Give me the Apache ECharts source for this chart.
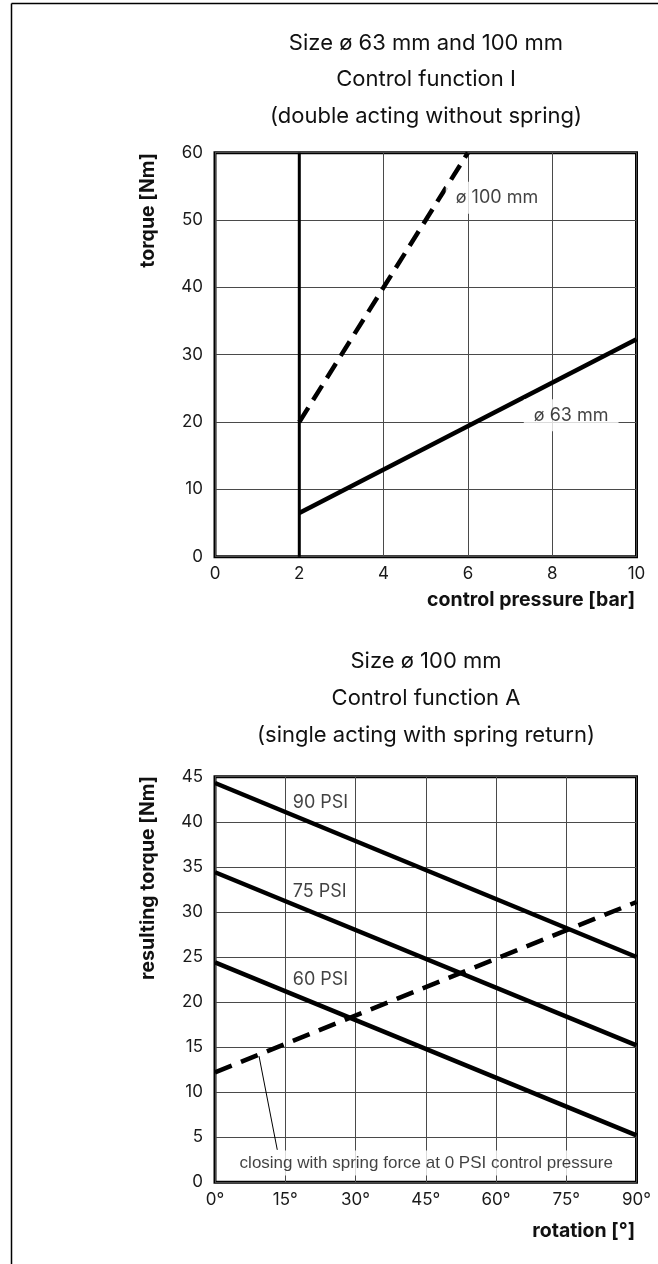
<!DOCTYPE html>
<html>
<head>
<meta charset="utf-8">
<script src="https://cdn.jsdelivr.net/npm/echarts@6.0.0/dist/echarts.min.js"></script>
<style>
html,body{margin:0;padding:0;background:#fff;}
#c{width:658px;height:1264px;}
</style>
</head>
<body>
<div id="c"></div>
<script>
// ---- Chart 1 data: Size ø 63 mm and 100 mm, control function I ----
const pressure63 = [2, 10];
const torque63 = [6.5, 32.3];
const pressure100 = [2, 6];
const torque100 = [20, 60];
const minPressureLine = [[2, 0], [2, 60]];
const labels1 = [[6.69, 53.3, 'ø 100 mm'], [8.45, 21.0, 'ø 63 mm']];

// ---- Chart 2 data: Size ø 100 mm, control function A ----
const rotation = [0, 90];
const psi90 = [44.3, 25.0];
const psi75 = [34.4, 15.2];
const psi60 = [24.4, 5.2];
const spring0 = [12.2, 31.1];
const labels2 = [[16.6, 42.1, '90 PSI'], [16.6, 32.3, '75 PSI'], [16.6, 22.5, '60 PSI']];
const leaderLine = [[9.4, 14.0], [13.3, 3.6]];
const noteLabel = [[45.1, 2.15, 'closing with spring force at 0 PSI control pressure']];

const titles1 = ['Size ø 63 mm and 100 mm', 'Control function I', '(double acting without spring)'];
const titles2 = ['Size ø 100 mm', 'Control function A', '(single acting with spring return)'];

const FONT = 'Inter, "Liberation Sans", Arial, sans-serif';
const NOTEFONT = '"Liberation Sans", Arial, sans-serif';
const zip = (xs, ys) => xs.map((x, i) => [x, ys[i]]);

const chart = echarts.init(document.getElementById('c'), null, {renderer: 'canvas'});

const gridLine = {show: true, lineStyle: {color: '#4a4a4a', width: 1}};
const axisLab = {color: '#1a1a1a', fontSize: 17, fontFamily: FONT};

function titleGraphics(lines, y0, step) {
  return lines.map((t, i) => ({
    type: 'text', x: 426, y: y0 + i * step,
    style: {text: t, fill: '#111', font: '22px ' + FONT, textAlign: 'center', textVerticalAlign: 'middle'}
  }));
}

const option = {
  animation: false,
  backgroundColor: '#fff',
  grid: [
    {left: 215, top: 152.7, width: 421.5, height: 404, show: true, borderColor: '#000', borderWidth: 3, backgroundColor: 'transparent'},
    {left: 215, top: 776.7, width: 421.5, height: 405.6, show: true, borderColor: '#000', borderWidth: 3, backgroundColor: 'transparent'}
  ],
  xAxis: [
    {gridIndex: 0, type: 'value', min: 0, max: 10, interval: 2,
     axisLine: {show: false}, axisTick: {show: false}, splitLine: gridLine,
     axisLabel: Object.assign({margin: 9}, axisLab)},
    {gridIndex: 1, type: 'value', min: 0, max: 90, interval: 15,
     axisLine: {show: false}, axisTick: {show: false}, splitLine: gridLine,
     axisLabel: Object.assign({margin: 9, formatter: '{value}°'}, axisLab)}
  ],
  yAxis: [
    {gridIndex: 0, type: 'value', min: 0, max: 60, interval: 10,
     axisLine: {show: false}, axisTick: {show: false}, splitLine: gridLine,
     axisLabel: Object.assign({margin: 12}, axisLab)},
    {gridIndex: 1, type: 'value', min: 0, max: 45, interval: 5,
     axisLine: {show: false}, axisTick: {show: false}, splitLine: gridLine,
     axisLabel: Object.assign({margin: 12}, axisLab)}
  ],
  series: [
    {type: 'line', xAxisIndex: 0, yAxisIndex: 0, data: minPressureLine, symbol: 'none',
     lineStyle: {color: '#000', width: 3}, z: 3},
    {type: 'line', xAxisIndex: 0, yAxisIndex: 0, data: zip(pressure100, torque100), symbol: 'none',
     lineStyle: {color: '#000', width: 4.5, type: [17, 9], cap: 'butt'}, z: 4},
    {type: 'line', xAxisIndex: 0, yAxisIndex: 0, data: zip(pressure63, torque63), symbol: 'none',
     lineStyle: {color: '#000', width: 4.5}, z: 4},
    {type: 'scatter', xAxisIndex: 0, yAxisIndex: 0, data: labels1, symbolSize: 0, z: 6,
     label: {show: true, position: 'inside', formatter: p => p.data[2], color: '#111', fontSize: 18,
             fontFamily: FONT, backgroundColor: '#fff', padding: [7, 10]}},
    {type: 'line', xAxisIndex: 1, yAxisIndex: 1, data: zip(rotation, psi90), symbol: 'none',
     lineStyle: {color: '#000', width: 4.5}, z: 4},
    {type: 'line', xAxisIndex: 1, yAxisIndex: 1, data: zip(rotation, psi75), symbol: 'none',
     lineStyle: {color: '#000', width: 4.5}, z: 4},
    {type: 'line', xAxisIndex: 1, yAxisIndex: 1, data: zip(rotation, psi60), symbol: 'none',
     lineStyle: {color: '#000', width: 4.5}, z: 4},
    {type: 'line', xAxisIndex: 1, yAxisIndex: 1, data: zip(rotation, spring0), symbol: 'none',
     lineStyle: {color: '#000', width: 4.5, type: [18, 10], cap: 'butt'}, z: 4},
    {type: 'line', xAxisIndex: 1, yAxisIndex: 1, data: leaderLine, symbol: 'none',
     lineStyle: {color: '#000', width: 1}, z: 7},
    {type: 'scatter', xAxisIndex: 1, yAxisIndex: 1, data: labels2, symbolSize: 0, z: 6,
     label: {show: true, position: 'inside', formatter: p => p.data[2], color: '#111', fontSize: 18,
             fontFamily: FONT, align: 'left'}},
    {type: 'scatter', xAxisIndex: 1, yAxisIndex: 1, data: noteLabel, symbolSize: 0, z: 6,
     label: {show: true, position: 'inside', formatter: p => p.data[2], color: '#111', fontSize: 17,
             fontFamily: NOTEFONT, backgroundColor: '#fff', padding: [4, 6]}}
  ],
  graphic: [].concat(
    titleGraphics(titles1, 43, 36.5),
    titleGraphics(titles2, 661, 37),
    [
      {type: 'line', shape: {x1: 11.5, y1: 3.5, x2: 658, y2: 3.5}, style: {stroke: '#000', lineWidth: 1.5}},
      {type: 'line', shape: {x1: 11.5, y1: 3.5, x2: 11.5, y2: 1264}, style: {stroke: '#000', lineWidth: 1.5}},
      {type: 'text', x: 148, y: 153, rotation: Math.PI / 2,
       style: {text: 'torque [Nm]', fill: '#111', font: 'bold 19.5px ' + FONT, textAlign: 'right', textVerticalAlign: 'middle'}},
      {type: 'text', x: 148, y: 776, rotation: Math.PI / 2,
       style: {text: 'resulting torque [Nm]', fill: '#111', font: 'bold 19.5px ' + FONT, textAlign: 'right', textVerticalAlign: 'middle'}},
      {type: 'text', x: 635, y: 600,
       style: {text: 'control pressure [bar]', fill: '#111', font: 'bold 19.5px ' + FONT, textAlign: 'right', textVerticalAlign: 'middle'}},
      {type: 'text', x: 635, y: 1231,
       style: {text: 'rotation [°]', fill: '#111', font: 'bold 19.5px ' + FONT, textAlign: 'right', textVerticalAlign: 'middle'}}
    ]
  )
};
chart.setOption(option);
</script>
</body>
</html>
